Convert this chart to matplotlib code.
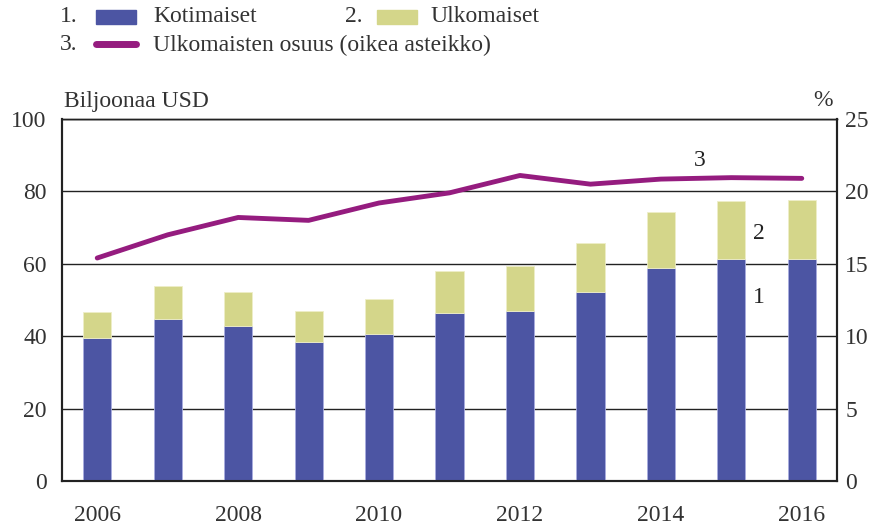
import matplotlib
matplotlib.use("Agg")
import matplotlib.pyplot as plt
from matplotlib.patches import Rectangle
from matplotlib.lines import Line2D

years = [2006, 2007, 2008, 2009, 2010, 2011, 2012, 2013, 2014, 2015, 2016]
kotimaiset = [39.6, 44.8, 42.7, 38.5, 40.7, 46.5, 47.0, 52.3, 58.9, 61.2, 61.3]
yhteensa = [46.8, 53.9, 52.2, 47.0, 50.4, 58.1, 59.5, 65.8, 74.3, 77.4, 77.6]
osuus = [15.4, 17.0, 18.2, 18.0, 19.2, 19.9, 21.1, 20.5, 20.85, 20.95, 20.9]
ulkomaiset = [t - k for t, k in zip(yhteensa, kotimaiset)]

blue = '#4c55a3'
green = '#d4d68a'
purple = '#951c7f'
txt = '#333333'
fs = 17

plt.rcParams['font.family'] = ['Liberation Serif', 'DejaVu Serif']
plt.rcParams['font.size'] = fs

fig = plt.figure(figsize=(8.73, 5.24), dpi=100)
ax = fig.add_axes([62/873, 1-481/524, (837-62)/873, (481-119)/524])
ax2 = ax.twinx()

ax.bar(years, kotimaiset, width=0.4, color=blue, edgecolor='#a9ade0', linewidth=0.6, zorder=3)
ax.bar(years, ulkomaiset, bottom=kotimaiset, width=0.4, color=green, edgecolor='#eeeec8', linewidth=0.6, zorder=3)
ax2.plot(years, osuus, color=purple, linewidth=3.5, solid_capstyle='round', zorder=4)

ax.set_xlim(2005.5, 2016.5)
ax.set_ylim(0, 100)
ax2.set_ylim(0, 25)
ax.set_yticks(range(0, 101, 20))
ax2.set_yticks(range(0, 26, 5))
ax.set_xticks(years[::2])
ax.yaxis.grid(True, color='#222222', linewidth=1.0, zorder=0)
ax.set_axisbelow(True)

for a in (ax, ax2):
    a.tick_params(length=0, colors=txt, labelsize=fs)
    for s in a.spines.values():
        s.set_color('#222222')
        s.set_linewidth(1.5)
ax.tick_params(axis='x', pad=17)
ax.tick_params(axis='y', pad=11)
ax2.tick_params(axis='y', pad=6)
ax.spines['top'].set_linewidth(1.0)
ax2.spines['top'].set_linewidth(1.0)

ax.text(2014.55, 88.5, '3', ha='center', va='center', fontsize=fs, color='#222222', zorder=5)
ax.text(2015.39, 68.5, '2', ha='center', va='center', fontsize=fs, color='#222222', zorder=5)
ax.text(2015.39, 50.8, '1', ha='center', va='center', fontsize=fs, color='#222222', zorder=5)

fig.text(64/873, 1-102/524, 'Biljoonaa USD', ha='left', va='center', fontsize=fs, color=txt)
fig.text(833/873, 1-100/524, '%', ha='right', va='center', fontsize=fs, color=txt)

# legend drawn by hand
fig.text(60/873, 1-17/524, '1.', ha='left', va='center', fontsize=fs, color=txt)
fig.patches.append(Rectangle((96/873, 1-24/524), 40/873, 14/524, transform=fig.transFigure, color=blue))
fig.text(153/873, 1-17/524, 'Kotimaiset', ha='left', va='center', fontsize=fs, color=txt)
fig.text(345/873, 1-17/524, '2.', ha='left', va='center', fontsize=fs, color=txt)
fig.patches.append(Rectangle((377/873, 1-24/524), 40/873, 14/524, transform=fig.transFigure, color=green))
fig.text(430/873, 1-17/524, 'Ulkomaiset', ha='left', va='center', fontsize=fs, color=txt)
fig.text(60/873, 1-45/524, '3.', ha='left', va='center', fontsize=fs, color=txt)
fig.lines.append(Line2D([96/873, 136/873], [1-44/524, 1-44/524], transform=fig.transFigure,
                        color=purple, linewidth=5, solid_capstyle='round'))
fig.text(153/873, 1-45/524, 'Ulkomaisten osuus (oikea asteikko)', ha='left', va='center', fontsize=fs, color=txt)

fig.savefig('out.png', dpi=100)
